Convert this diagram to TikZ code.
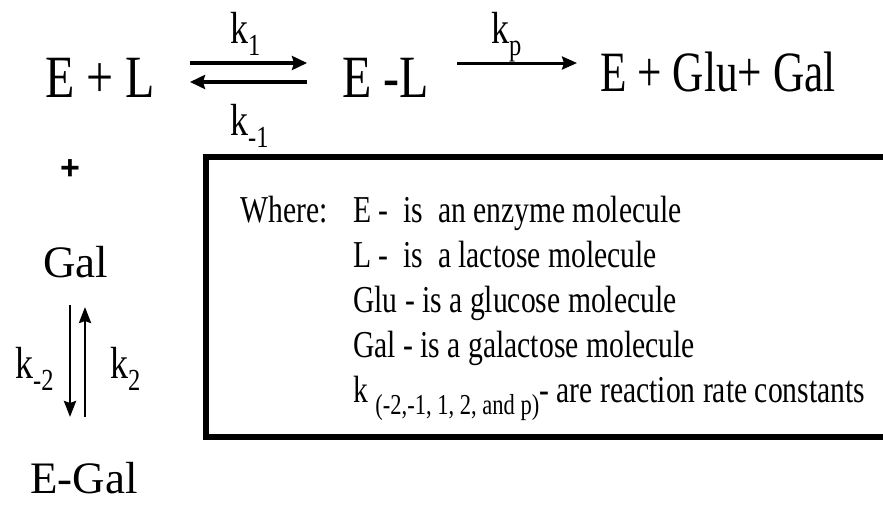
\documentclass[tikz,border=0pt]{standalone}
\usepackage{fontspec}
\usepackage{graphicx}
\setmainfont{Liberation Serif}
\newfontfamily\nf[FakeStretch=0.80]{Liberation Serif}
\newfontfamily\pf[FakeStretch=0.76]{Liberation Serif}
\newfontfamily\boxfont[FakeStretch=0.78]{Liberation Serif}
\newfontfamily\plusf{Liberation Sans}
\usetikzlibrary{arrows.meta}
\newcommand\ksb[1]{\raisebox{-0.28em}{\scalebox{0.68}{#1}}}
\newcommand\ksbs[1]{\raisebox{-0.34em}{\scalebox{0.76}{#1}}}
\begin{document}
\begin{tikzpicture}[x=1pt,y=-1pt,
  txt/.style={inner sep=0pt, anchor=base west},
  big/.style={txt, font=\nf\fontsize{60}{72}\selectfont},
  bigr/.style={txt, font=\pf\fontsize{57}{68}\selectfont},
  klab/.style={txt, font=\nf\fontsize{45}{52}\selectfont},
  side/.style={txt, font=\fontsize{45}{54}\selectfont},
  sidek/.style={txt, font=\nf\fontsize{45}{52}\selectfont},
  boxt/.style={txt, font=\boxfont\fontsize{38}{46}\selectfont},
  harrow/.style={line width=3.4pt, -{Stealth[length=15pt,width=14pt,inset=2pt]}},
  parrow/.style={line width=3pt, -{Stealth[length=15pt,width=13pt,inset=2pt]}},
  varrow/.style={line width=2.8pt, -{Stealth[length=16pt,width=12pt,inset=2pt]}},
  frame/.style={line width=6pt, line join=miter}
]
\useasboundingbox (0,0) rectangle (883,506);
\fill[white] (0,0) rectangle (883,506);

% top row
\node[big] (EL) at (45,97) {E + L};
\node[big] (ELc) at (342,97) {E -L};
\node[bigr] (prod) at (600,91) {E + Glu+ Gal};

\coordinate (f1) at (190,63);
\coordinate (f2) at (307,63);
\coordinate (b1) at (307,82);
\coordinate (b2) at (190,82);
\draw[harrow] (f1) -- (f2);
\draw[harrow] (b1) -- (b2);
\node[klab] (k1) at (230,43) {k\ksb{1}};
\node[klab] (km1) at (230,135) {k\ksb{-1}};

\coordinate (p1) at (457,63);
\coordinate (p2) at (577,63);
\draw[parrow] (p1) -- (p2);
\node[klab] (kp) at (491,43) {k\ksb{p}};

% left column
\node[inner sep=0pt, font=\plusf\bfseries\fontsize{34}{40}\selectfont] (plus) at (70,170) {+};
\node[side] (gal) at (43,277) {Gal};
\coordinate (d1) at (70,305);
\coordinate (d2) at (70,417);
\coordinate (u1) at (85,417);
\coordinate (u2) at (85,307);
\draw[varrow] (d1) -- (d2);
\draw[varrow] (u1) -- (u2);
\node[sidek] (km2) at (15,378) {k\ksb{-2}};
\node[sidek] (k2) at (110,378) {k\ksb{2}};
\node[side] (egal) at (30,493) {E-Gal};

% definitions box
\draw[frame] (883,157) -- (206,157) -- (206,437) -- (883,437);
\node[boxt] (where) at (240,222) {Where:};
\node[boxt] (l1) at (353,222) {E -\ \ is\ \ an enzyme molecule};
\node[boxt] (l2) at (353,267) {L -\ \ is\ \ a lactose molecule};
\node[boxt] (l3) at (353,312) {Glu - is a glucose molecule};
\node[boxt] (l4) at (353,357) {Gal - is a galactose molecule};
\node[boxt] (l5) at (353,402) {k \ksbs{(-2,-1, 1, 2, and p)}- are reaction rate constants};
\end{tikzpicture}
\end{document}
